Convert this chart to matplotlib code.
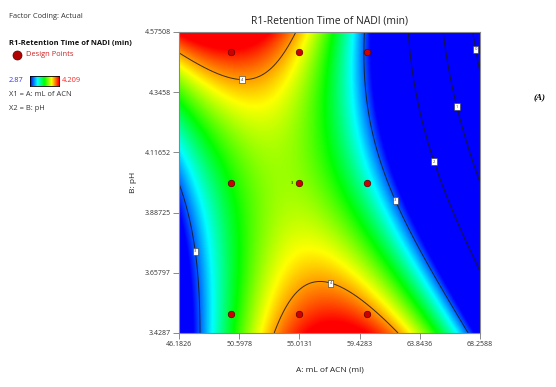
import matplotlib.pyplot as plt
import numpy as np
from matplotlib.colors import LinearSegmentedColormap

plt.rcParams['font.family'] = ['Open Sans', 'DejaVu Sans']

acn_ticks = [46.1826, 50.5978, 55.0131, 59.4283, 63.8436, 68.2588]
ph_ticks = [3.4287, 3.65797, 3.88725, 4.11652, 4.3458, 4.57508]
rt_low, rt_high = 2.87, 4.209
levels = [0, 1, 2, 3, 4]

# design points, responses
acn_pts = [50, 55, 60, 50, 55, 60, 50, 55, 60]
ph_pts = [4.5, 4.5, 4.5, 4.0, 4.0, 4.0, 3.5, 3.5, 3.5]
rt_pts = [4.25, 3.95, 3.0, 3.54, 3.7, 3.3, 3.5, 4.12, 4.05]

# points (and corners)
trace_acn = [46.18, 48.31, 50.8, 53.22, 54.2,
             53.2, 54.47, 57.26, 59.68, 62.17,
             46.18, 47.36, 47.8,
             59.8, 60.56, 61.88, 65.54, 67.53,
             62.83, 64.81, 68.26,
             65.54, 66.57, 68.26,
             67.82, 68.26,
             46.18, 57.5, 68.26, 68.26]
trace_ph = [4.525, 4.457, 4.396, 4.442, 4.575,
            3.4287, 3.528, 3.61, 3.554, 3.4287,
            3.97, 3.741, 3.4287,
            4.575, 4.126, 3.928, 3.619, 3.4287,
            4.575, 4.084, 3.657,
            4.575, 4.286, 4.011,
            4.575, 4.43,
            4.575, 3.4287, 3.4287, 4.575]
trace_rt = [4, 4, 4, 4, 4,
            4, 4, 4, 4, 4,
            3, 3, 3,
            3, 3, 3, 3, 3,
            2, 2, 2,
            1, 1, 1,
            0, 0,
            4.3, 4.3, 2.7, -0.3]


def terms(a, b):
    X = (np.asarray(a, float) - 55) / 5
    Y = (np.asarray(b, float) - 4) / 0.5
    return np.stack([np.ones_like(X), X, Y, X * Y, X**2, Y**2,
                     X**2 * Y, X * Y**2, X**3, Y**3], axis=-1)


all_acn = acn_pts + trace_acn
all_ph = ph_pts + trace_ph
all_rt = rt_pts + trace_rt
coef = np.linalg.lstsq(terms(all_acn, all_ph), np.array(all_rt), rcond=None)[0]

ga = np.linspace(acn_ticks[0], acn_ticks[-1], 400)
gp = np.linspace(ph_ticks[0], ph_ticks[-1], 400)
AA, PP = np.meshgrid(ga, gp)
Z = terms(AA, PP) @ coef

cmap = LinearSegmentedColormap.from_list('de', ['#0000ff', '#00ffff', '#00ff00', '#ffff00', '#ff0000'])

W, H = 556, 387
fig = plt.figure(figsize=(W / 100, H / 100), dpi=100)
ax = fig.add_axes([179 / W, 1 - 333 / H, 301 / W, 301 / H])

ax.imshow(Z, extent=[ga[0], ga[-1], gp[0], gp[-1]], origin='lower', aspect='auto',
          cmap=cmap, vmin=rt_low, vmax=rt_high, interpolation='bilinear')
cs = ax.contour(AA, PP, Z, levels=levels, colors='#1a1a1a', linewidths=0.7, alpha=0.85)
lab_pos = [(50.8, 4.40), (57.26, 3.61), (47.36, 3.74), (61.88, 3.93),
           (64.81, 4.08), (66.57, 4.29), (68.0, 4.51)]
labels = ax.clabel(cs, manual=lab_pos, inline=False, fmt='%d', fontsize=3)
for t in labels:
    t.set_rotation(0)
    t.set_bbox(dict(boxstyle='square,pad=0.35', fc='white', ec='#333333', lw=0.4))

ax.scatter(acn_pts, ph_pts, s=22, c='#cc0000', edgecolors='#550000', linewidths=0.5, zorder=5)
ax.text(54.55, 4.0, '3', fontsize=3, ha='right', va='center', zorder=6)

ax.set_xlim(acn_ticks[0], acn_ticks[-1])
ax.set_ylim(ph_ticks[0], ph_ticks[-1])
ax.set_xticks(acn_ticks)
ax.set_xticklabels(['%g' % v for v in acn_ticks])
ax.set_yticks(ph_ticks)
ax.set_yticklabels(['%g' % v for v in ph_ticks])
ax.tick_params(labelsize=5, length=4.5, width=0.6, pad=1.5, color='#777777', labelcolor='#333333')
for s in ax.spines.values():
    s.set_color('#888888')
    s.set_linewidth(0.8)

ax.set_title('R1-Retention Time of NADI (min)', fontsize=7.5, color='#222222', pad=6)
ax.set_xlabel('A: mL of ACN (ml)', fontsize=6, color='#222222', labelpad=13)
ax.set_ylabel('B: pH', fontsize=6, color='#222222', labelpad=5)

# left-hand legend block
fs = 5.4
fig.text(9 / W, 1 - 17 / H, 'Factor Coding: Actual', fontsize=fs, color='#333333', va='center')
fig.text(9 / W, 1 - 43 / H, 'R1-Retention Time of NADI (min)', fontsize=fs,
         fontweight='bold', color='#111111', va='center')
fig.lines.append(plt.Line2D([17 / W], [1 - 55 / H], marker='o', markersize=6.5,
                            markerfacecolor='#b30000', markeredgecolor='#550000',
                            markeredgewidth=0.5, transform=fig.transFigure))
fig.text(26 / W, 1 - 55 / H, 'Design Points', fontsize=fs, color='#cc2222', va='center')
fig.text(9 / W, 1 - 81 / H, '%g' % rt_low, fontsize=fs, color='#3333ff', va='center')
cax = fig.add_axes([30 / W, 1 - 86 / H, 29 / W, 10 / H])
cax.imshow(np.linspace(0, 1, 100)[None, :], aspect='auto', cmap=cmap)
cax.set_xticks([])
cax.set_yticks([])
for s in cax.spines.values():
    s.set_linewidth(0.6)
fig.text(62 / W, 1 - 81 / H, '%g' % rt_high, fontsize=fs, color='#ff2222', va='center')
fig.text(9 / W, 1 - 94 / H, 'X1 = A: mL of ACN', fontsize=fs, color='#333333', va='center')
fig.text(9 / W, 1 - 108 / H, 'X2 = B: pH', fontsize=fs, color='#333333', va='center')

fig.text(540 / W, 1 - 97 / H, '(A)', fontsize=6.5, family='Liberation Serif',
         fontweight='bold', style='italic', ha='center', va='center')

fig.savefig('out.png', dpi=100)
